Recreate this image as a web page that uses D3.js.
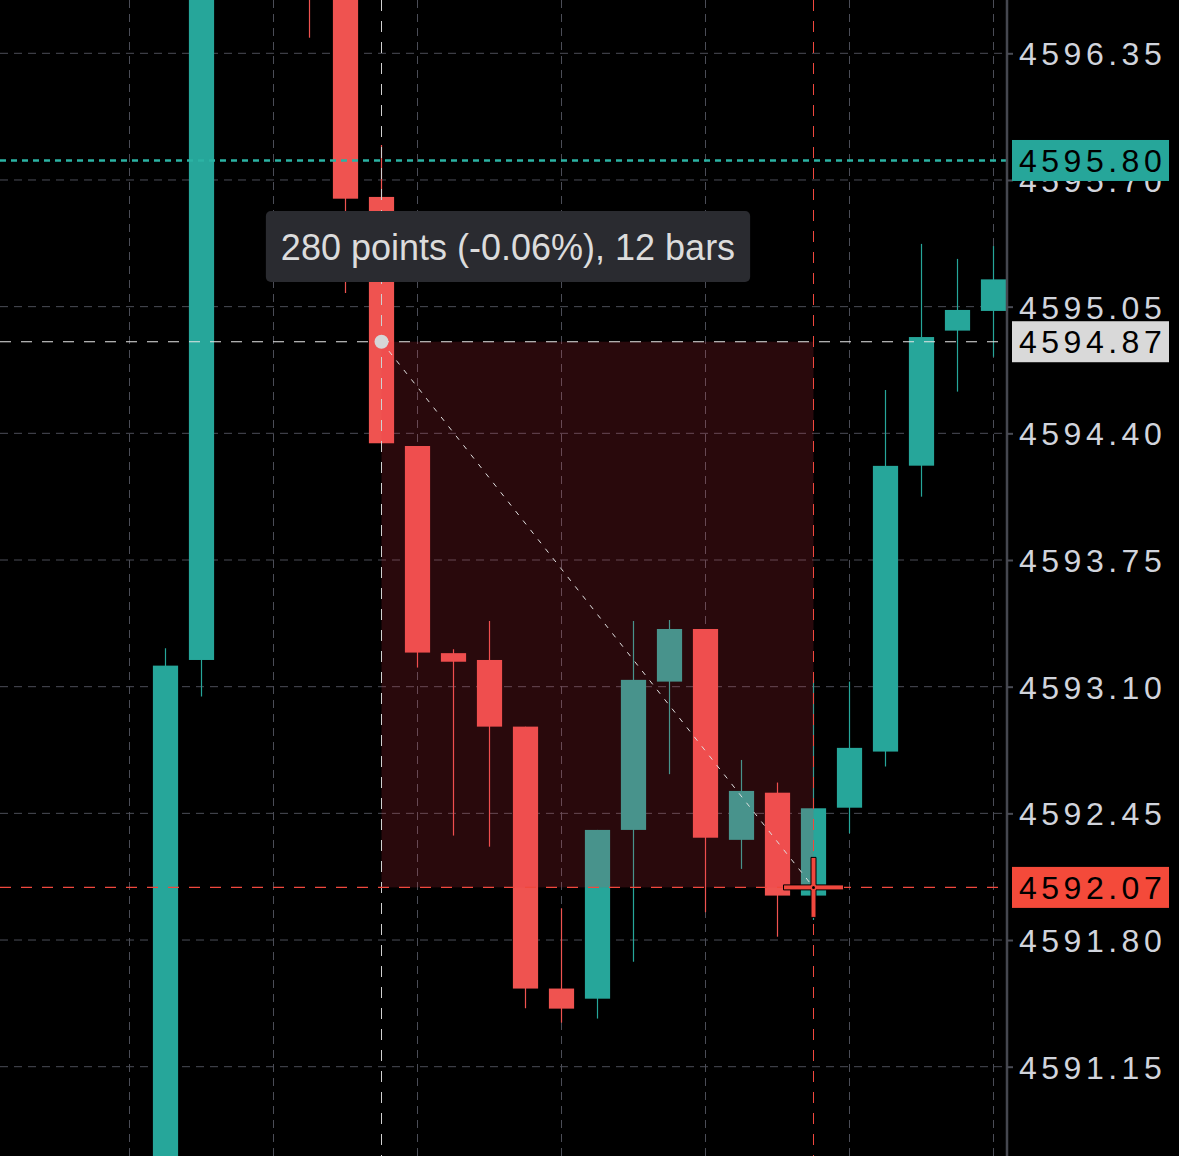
<!DOCTYPE html>
<meta charset="utf-8">
<script type="text/javascript" src="https://cdn.jsdelivr.net/npm/d3@7/dist/d3.min.js" charset="utf-8"></script>
<style>
body { margin: 0; background: #000; overflow: hidden; }
text { font-family: "Liberation Sans", Arial, sans-serif; }
.axis text { fill: #d1d4dc; font-size: 32px; letter-spacing: 4.5px; }
.axis line { stroke: #4a4c55; stroke-width: 2px; }
.grid line { stroke: #4b4d57; stroke-width: 1px; stroke-dasharray: 8,6; }
</style>
<body>
<script>

// candles (bar index, OHLC)
var barIndex = [1, 2, 3, 4, 5, 6, 7, 8, 9, 10, 11, 12, 13, 14, 15, 16, 17, 18, 19, 20, 21, 22, 23, 24];
var opens  = [4590.20, 4593.237, 4597.00, 4597.40, 4597.00, 4597.00, 4595.613, 4594.335, 4593.272, 4593.237, 4592.895, 4591.551, 4591.499, 4592.365, 4593.126, 4593.396, 4592.314, 4592.556, 4592.028, 4592.479, 4592.767, 4594.234, 4594.927, 4595.028];
var highs  = [4593.297, 4597.30, 4597.60, 4597.70, 4597.20, 4597.10, 4595.880, 4594.335, 4593.292, 4593.437, 4592.895, 4591.963, 4592.365, 4593.437, 4593.442, 4593.396, 4592.724, 4592.608, 4593.135, 4593.126, 4594.622, 4595.372, 4595.295, 4595.361];
var lows   = [4590.10, 4593.049, 4596.80, 4596.90, 4596.43, 4595.120, 4594.349, 4593.198, 4592.336, 4592.279, 4591.450, 4591.376, 4591.397, 4591.689, 4592.651, 4591.943, 4592.165, 4591.817, 4591.903, 4592.348, 4592.690, 4594.075, 4594.614, 4594.793];
var closes = [4593.208, 4597.20, 4597.40, 4597.10, 4596.70, 4595.604, 4594.349, 4593.275, 4593.228, 4592.895, 4591.551, 4591.448, 4592.365, 4593.135, 4593.396, 4592.325, 4592.565, 4592.028, 4592.476, 4592.786, 4594.233, 4594.894, 4595.033, 4595.190];

var priceTicks = [4596.35, 4595.70, 4595.05, 4594.40, 4593.75, 4593.10, 4592.45, 4591.80, 4591.15];
var timeGrid = [0, 4, 8, 12, 16, 20, 24];

// price line and measure tool
var priceLine = 4595.80;
var measureStart = {bar: 7, price: 4594.87};
var measureEnd = {bar: 19, price: 4592.07};

var width = 1179,
    height = 1156,
    plotRight = 1007;

var up = "#26a69a", down = "#ef5350";

var x = d3.scaleLinear().domain([0, 24]).range([129.5, 993.5]);
var y = d3.scaleLinear().domain([4596.35, 4591.15]).range([53.3, 1066.7]);
var bodyW = (x(1) - x(0)) * 0.7;

var svg = d3.select("body").append("svg")
    .attr("width", width)
    .attr("height", height);

svg.append("rect").attr("width", width).attr("height", height).attr("fill", "#000");

svg.append("defs").append("clipPath").attr("id", "plot")
  .append("rect").attr("width", plotRight).attr("height", height);

var plot = svg.append("g").attr("clip-path", "url(#plot)");

// grid
var grid = plot.append("g").attr("class", "grid");
grid.selectAll(".h").data(priceTicks).enter().append("line")
    .attr("x1", 0).attr("x2", plotRight)
    .attr("y1", function(d) { return y(d); })
    .attr("y2", function(d) { return y(d); });
grid.selectAll(".v").data(timeGrid).enter().append("line")
    .attr("x1", function(d) { return x(d); })
    .attr("x2", function(d) { return x(d); })
    .attr("y1", 0).attr("y2", height);

var candles = barIndex.map(function(b, i) {
  return {i: b, o: opens[i], h: highs[i], l: lows[i], c: closes[i]};
});

var candle = plot.selectAll(".candle").data(candles).enter().append("g");

candle.append("line")
    .attr("x1", function(d) { return x(d.i); })
    .attr("x2", function(d) { return x(d.i); })
    .attr("y1", function(d) { return y(d.h); })
    .attr("y2", function(d) { return y(d.l); })
    .attr("stroke", function(d) { return d.c >= d.o ? up : down; })
    .attr("stroke-width", 1.2);

candle.append("rect")
    .attr("x", function(d) { return x(d.i) - bodyW / 2; })
    .attr("width", bodyW)
    .attr("y", function(d) { return y(Math.max(d.o, d.c)); })
    .attr("height", function(d) { return Math.max(1, Math.abs(y(d.o) - y(d.c))); })
    .attr("fill", function(d) { return d.c >= d.o ? up : down; });

// measured range shading
var mx0 = x(measureStart.bar), mx1 = x(measureEnd.bar),
    my0 = y(measureStart.price), my1 = y(measureEnd.price);

plot.append("rect")
    .attr("x", mx0).attr("y", my0)
    .attr("width", mx1 - mx0).attr("height", my1 - my0)
    .attr("fill", "rgba(242, 54, 69, 0.17)");

// teal price line
plot.append("line")
    .attr("x1", 0).attr("x2", plotRight)
    .attr("y1", y(priceLine)).attr("y2", y(priceLine))
    .attr("stroke", "#2bb3a4").attr("stroke-width", 2.5)
    .attr("stroke-dasharray", "6,5");

// crosshairs
plot.append("line")
    .attr("x1", 0).attr("x2", plotRight)
    .attr("y1", my0).attr("y2", my0)
    .attr("stroke", "#e6e6e6").attr("stroke-width", 1.2)
    .attr("stroke-dasharray", "11,10");
plot.append("line")
    .attr("x1", mx0).attr("x2", mx0)
    .attr("y1", 0).attr("y2", height)
    .attr("stroke", "#d0d0d0").attr("stroke-width", 1)
    .attr("stroke-dasharray", "11,10");
plot.append("line")
    .attr("x1", 0).attr("x2", plotRight)
    .attr("y1", my1).attr("y2", my1)
    .attr("stroke", "#f0483e").attr("stroke-width", 1.2)
    .attr("stroke-dasharray", "11,10");
plot.append("line")
    .attr("x1", mx1).attr("x2", mx1)
    .attr("y1", 0).attr("y2", height)
    .attr("stroke", "#f0483e").attr("stroke-width", 1)
    .attr("stroke-dasharray", "11,10");

// diagonal
plot.append("line")
    .attr("x1", mx0).attr("y1", my0)
    .attr("x2", mx1).attr("y2", my1)
    .attr("stroke", "#e0e0e0").attr("stroke-width", 1)
    .attr("stroke-dasharray", "5,7");

plot.append("circle")
    .attr("cx", mx0).attr("cy", my0).attr("r", 7)
    .attr("fill", "#d6d6d6");

// cursor cross
var a = 30, t = 2.5;
plot.append("path")
    .attr("d", "M" + (mx1 - t) + "," + (my1 - a) +
        "H" + (mx1 + t) + "V" + (my1 - t) + "H" + (mx1 + a) + "V" + (my1 + t) +
        "H" + (mx1 + t) + "V" + (my1 + a) + "H" + (mx1 - t) + "V" + (my1 + t) +
        "H" + (mx1 - a) + "V" + (my1 - t) + "H" + (mx1 - t) + "Z")
    .attr("fill", "#f0483e").attr("stroke", "#000").attr("stroke-width", 1);
plot.append("circle").attr("cx", mx1).attr("cy", my1).attr("r", 1.5).attr("fill", "#000");

// tooltip
var diff = measureEnd.price - measureStart.price;
var label = Math.round(Math.abs(diff) * 100) + " points (" +
    (diff / measureStart.price * 100).toFixed(2) + "%), " +
    (measureEnd.bar - measureStart.bar) + " bars";

var tip = plot.append("g");
var tipRect = tip.append("rect").attr("rx", 5).attr("fill", "#2a2b30");
var tipText = tip.append("text")
    .attr("x", 508).attr("y", 260)
    .attr("text-anchor", "middle")
    .attr("fill", "#dcdcdc")
    .style("font-size", "36px")
    .text(label);
var bb = tipText.node().getBBox();
tipRect.attr("x", bb.x - 15).attr("width", bb.width + 30)
    .attr("y", 211).attr("height", 71);

// price axis
svg.append("line")
    .attr("x1", plotRight).attr("x2", plotRight)
    .attr("y1", 0).attr("y2", height)
    .attr("stroke", "#45474f").attr("stroke-width", 2.5);

var axis = svg.append("g")
    .attr("class", "axis")
    .attr("transform", "translate(" + plotRight + ",0)")
    .call(d3.axisRight(y)
        .tickValues(priceTicks)
        .tickFormat(d3.format(".2f"))
        .tickSize(6)
        .tickSizeOuter(0)
        .tickPadding(6));
axis.select(".domain").remove();
axis.selectAll("text").attr("dy", "0.36em");

// price labels
var markers = [
  {price: priceLine, bg: "#26a69a", fg: "#000"},
  {price: measureStart.price, bg: "#d9d9d9", fg: "#000"},
  {price: measureEnd.price, bg: "#f44a3a", fg: "#000"}
];

var mk = svg.selectAll(".marker").data(markers).enter().append("g");
mk.append("rect")
    .attr("x", 1012)
    .attr("y", function(d) { return y(d.price) - 20.5; })
    .attr("width", 157).attr("height", 41)
    .attr("fill", function(d) { return d.bg; });
mk.append("text")
    .attr("x", 1019)
    .attr("y", function(d) { return y(d.price); })
    .attr("dy", "0.36em")
    .attr("fill", function(d) { return d.fg; })
    .style("font-size", "32px")
    .style("letter-spacing", "4.5px")
    .text(function(d) { return d.price.toFixed(2); });

</script>
</body>
